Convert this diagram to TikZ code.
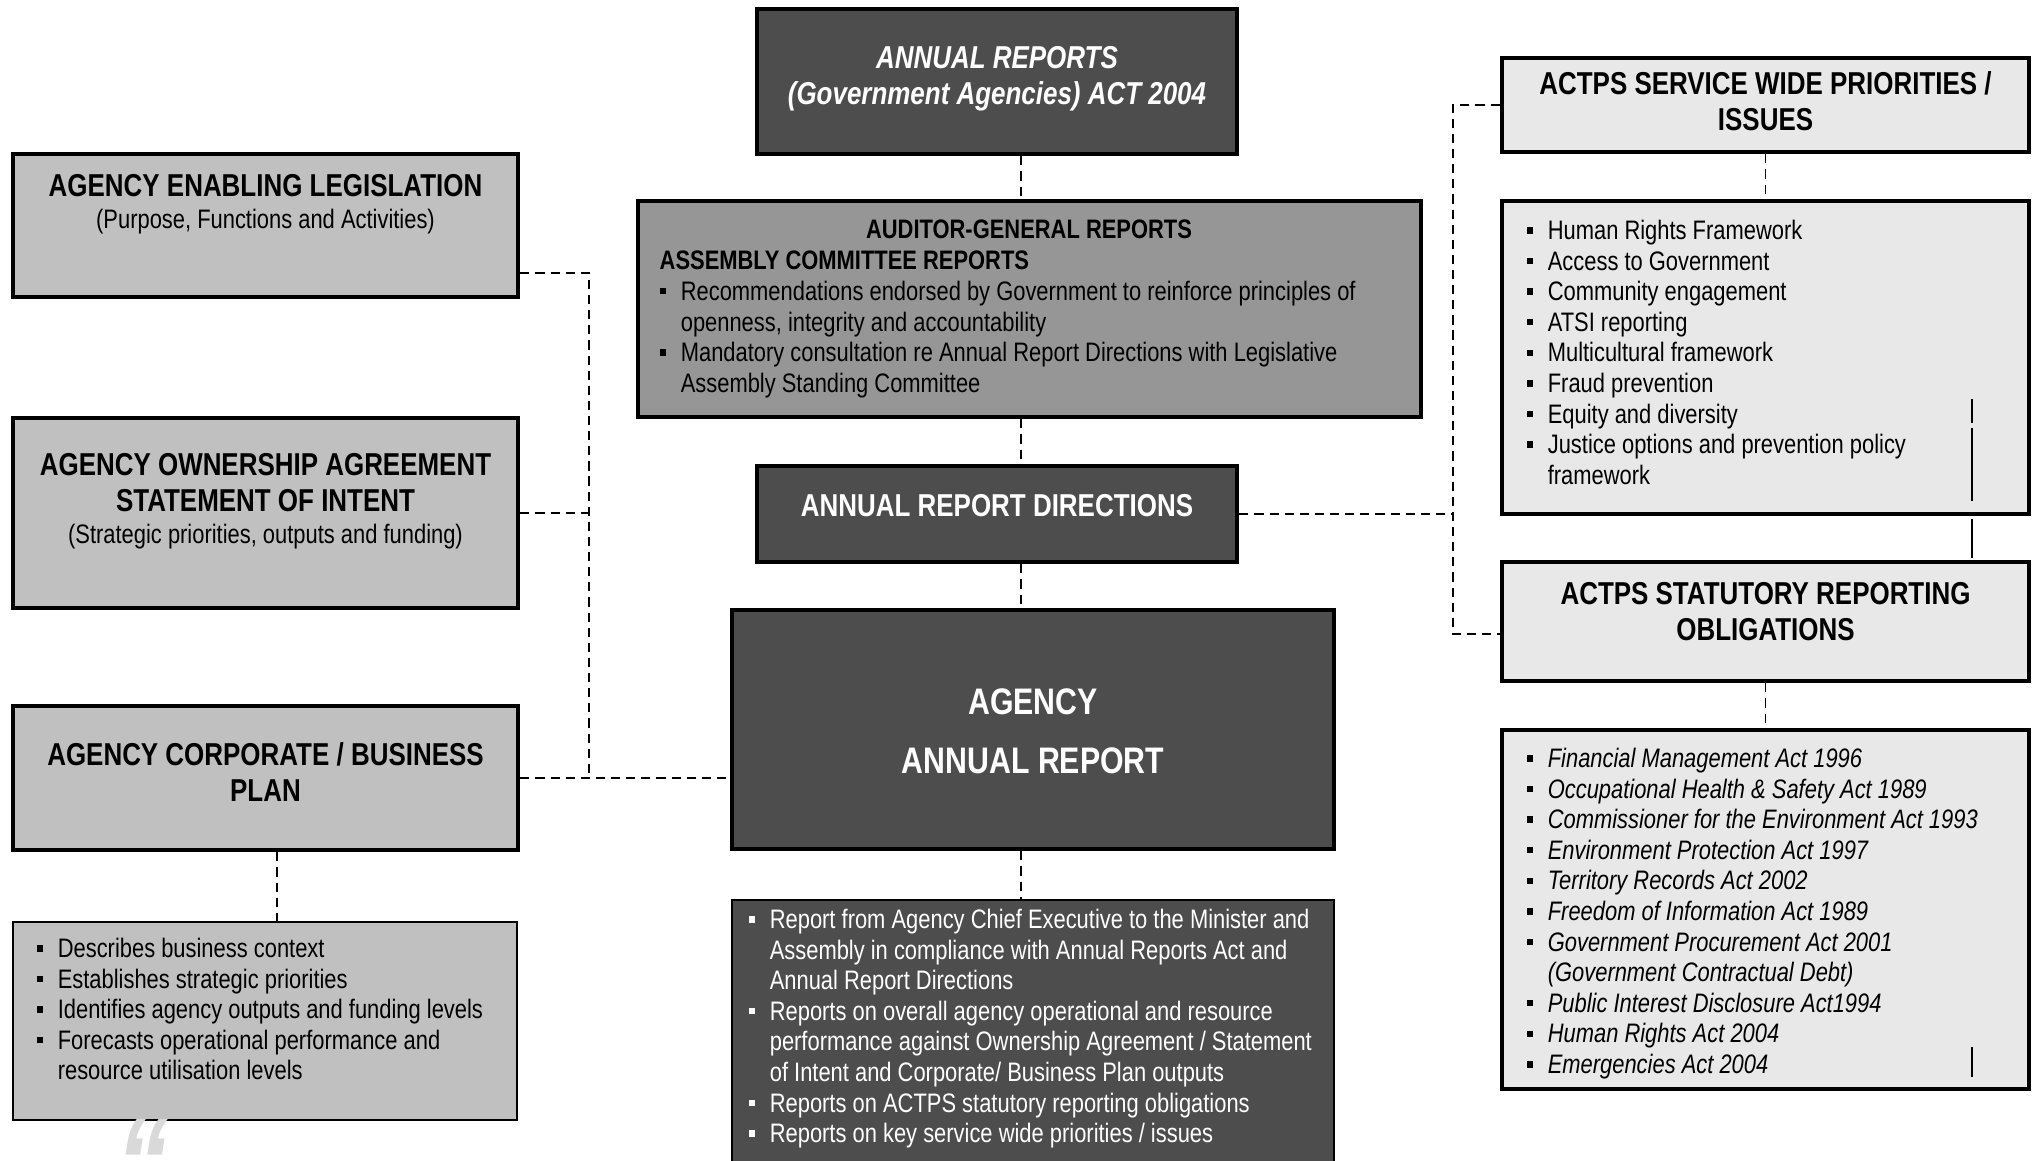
\documentclass[tikz,border=0pt]{standalone}
\usepackage{fontspec}
\setmainfont{Liberation Sans}[FakeStretch=0.82]
\usetikzlibrary{calc}
\definecolor{boxD}{RGB}{77,77,77}
\definecolor{boxM}{RGB}{150,150,150}
\definecolor{boxL}{RGB}{192,192,192}
\definecolor{boxP}{RGB}{232,232,232}
\newcommand\hfont{\fontsize{9}{10.3}\selectfont\bfseries}
\newcommand\lfont{\fontsize{7.6}{8.7}\selectfont}

\begin{document}
\begin{tikzpicture}[x=0.01cm,y=-0.01cm,
  wh/.style 2 args={minimum width=#1*0.01cm,minimum height=#2*0.01cm},
  hbox/.style={draw=black,line width=1.3pt,inner sep=0pt},
  dbox/.style={hbox,fill=boxD},
  mbox/.style={hbox,fill=boxM},
  lbox/.style={hbox,fill=boxL},
  pbox/.style={hbox,fill=boxP},
  flat/.style={line width=0.45pt},
  htxt/.style={font=\hfont,align=center,inner sep=0pt,anchor=north},
  ltxt/.style={font=\lfont,align=left,inner sep=0pt,anchor=north west},
  link/.style={draw,line width=0.4pt,dash pattern=on 2.6pt off 1.7pt},
  stub/.style={draw,line width=0.4pt}]
\def\bul{\makebox[6pt][l]{\rule[1.7pt]{1.8pt}{1.8pt}}}
\def\ind{\hspace*{6pt}}
\fill[white] (0,0) rectangle (2040,1160);
\useasboundingbox (0,0) rectangle (2040,1160);
% centre column
\node[dbox,wh={480}{145}] (act) at (997,81.5) {};
\node[mbox,wh={783}{216}] (auditor) at (1029.5,309) {};
\node[dbox,wh={480}{96}] (ard) at (997,514) {};
\node[dbox,wh={602}{239}] (aar) at (1033,729.5) {};
\node[hbox,flat,fill=boxD,wh={602}{275}] (aarlist) at (1033,1037.5) {};
% left column
\node[lbox,wh={505}{143}] (legis) at (265.5,225.5) {};
\node[lbox,wh={505}{190}] (owner) at (265.5,513) {};
\node[lbox,wh={505}{144}] (corp) at (265.5,778) {};
\node[hbox,flat,fill=boxL,wh={504}{198}] (corplist) at (265,1021) {};
% right column
\node[pbox,wh={527}{94}] (swp) at (1765.5,105) {};
\node[pbox,wh={527}{313}] (swplist) at (1765.5,357.5) {};
\node[pbox,wh={527}{119}] (sro) at (1765.5,621.5) {};
\node[pbox,wh={527}{359}] (srolist) at (1765.5,909.5) {};

\node[htxt,text=white,font=\hfont\itshape] (actt) at (997,45.5) {ANNUAL REPORTS\\(Government Agencies) ACT 2004};
\node[inner sep=0pt,font=\lfont\bfseries] (audt) at (1029,229) {AUDITOR-GENERAL REPORTS};
\node[ltxt] (audl) at (659,250.5) {\textbf{ASSEMBLY COMMITTEE REPORTS}\\
  \bul Recommendations endorsed by Government to reinforce principles of\\
  \ind openness, integrity and accountability\\
  \bul Mandatory consultation re Annual Report Directions with Legislative\\
  \ind Assembly Standing Committee};
\node[inner sep=0pt,font=\hfont,text=white] (ardt) at (997,506) {ANNUAL REPORT DIRECTIONS};
\node[htxt,text=white,font=\fontsize{10.5}{16.8}\selectfont\bfseries] (aart) at (1033,688) {AGENCY\\ANNUAL REPORT};
\node[ltxt,text=white] (aarl) at (748,908.5) {\bul Report from Agency Chief Executive to the Minister and\\
  \ind Assembly in compliance with Annual Reports Act and\\
  \ind Annual Report Directions\\
  \bul Reports on overall agency operational and resource\\
  \ind performance against Ownership Agreement / Statement\\
  \ind of Intent and Corporate/ Business Plan outputs\\
  \bul Reports on ACTPS statutory reporting obligations\\
  \bul Reports on key service wide priorities / issues};

\node[htxt] (legist) at (265.5,173.5) {AGENCY ENABLING LEGISLATION\\[-1.2pt]{\lfont\mdseries (Purpose, Functions and Activities)}};
\node[htxt] (ownert) at (265.5,452.5) {AGENCY OWNERSHIP AGREEMENT\\STATEMENT OF INTENT\\[-1.2pt]{\lfont\mdseries (Strategic priorities, outputs and funding)}};
\node[htxt] (corpt) at (265.5,741.5) {AGENCY CORPORATE / BUSINESS\\PLAN};
\node[ltxt] (corpl) at (36,937.5) {\bul Describes business context\\
  \bul Establishes strategic priorities\\
  \bul Identifies agency outputs and funding levels\\
  \bul Forecasts operational performance and\\
  \ind resource utilisation levels};

\node[htxt] (swpt) at (1765.5,70.5) {ACTPS SERVICE WIDE PRIORITIES /\\ISSUES};
\node[ltxt] (swpl) at (1526,219.5) {\bul Human Rights Framework\\
  \bul Access to Government\\
  \bul Community engagement\\
  \bul ATSI reporting\\
  \bul Multicultural framework\\
  \bul Fraud prevention\\
  \bul Equity and diversity\\
  \bul Justice options and prevention policy\\
  \ind framework};
\node[htxt] (srot) at (1765.5,581.5) {ACTPS STATUTORY REPORTING\\OBLIGATIONS};
\node[ltxt,font=\lfont\itshape] (srol) at (1526,747.5) {\bul Financial Management Act 1996\\
  \bul Occupational Health \& Safety Act 1989\\
  \bul Commissioner for the Environment Act 1993\\
  \bul Environment Protection Act 1997\\
  \bul Territory Records Act 2002\\
  \bul Freedom of Information Act 1989\\
  \bul Government Procurement Act 2001\\
  \ind (Government Contractual Debt)\\
  \bul Public Interest Disclosure Act1994\\
  \bul Human Rights Act 2004\\
  \bul Emergencies Act 2004};

\coordinate (cx) at (1021,0);
\draw[link] (act.south -| cx) -- (auditor.north -| cx);
\draw[link] (auditor.south -| cx) -- (ard.north -| cx);
\draw[link] (ard.south -| cx) -- (aar.north -| cx);
\draw[link] (aar.south -| cx) -- (aarlist.north -| cx);
\coordinate (ltop) at (589,273);
\draw[link] (legis.east |- ltop) -- (ltop) -- (ltop |- corp.east);
\draw[link] (owner.east) -- (owner.east -| ltop);
\draw[link] (corp.east) -- (corp.east -| aar.west);
\coordinate (cl) at (277,0);
\draw[link] (corp.south -| cl) -- (corplist.north -| cl);
\coordinate (rbot) at (1453,634);
\draw[link] (swp.west) -| (rbot) -- (rbot -| sro.west);
\draw[link] (ard.east) -- (ard.east -| rbot);
\draw[link] (swp.south) -- (swplist.north);
\draw[link] (sro.south) -- (srolist.north);
\foreach \a/\b in {399/423,428/501,519/558,1047/1077}
  \draw[stub] (1972,\a) -- (1972,\b);
\node[inner sep=0pt,anchor=south,text=black!15,font=\fontsize{36}{36}\selectfont\bfseries\itshape] (quote) at (142,1146) {\raisebox{-0.48em}[0.25em][0pt]{“}};
\end{tikzpicture}
\end{document}
